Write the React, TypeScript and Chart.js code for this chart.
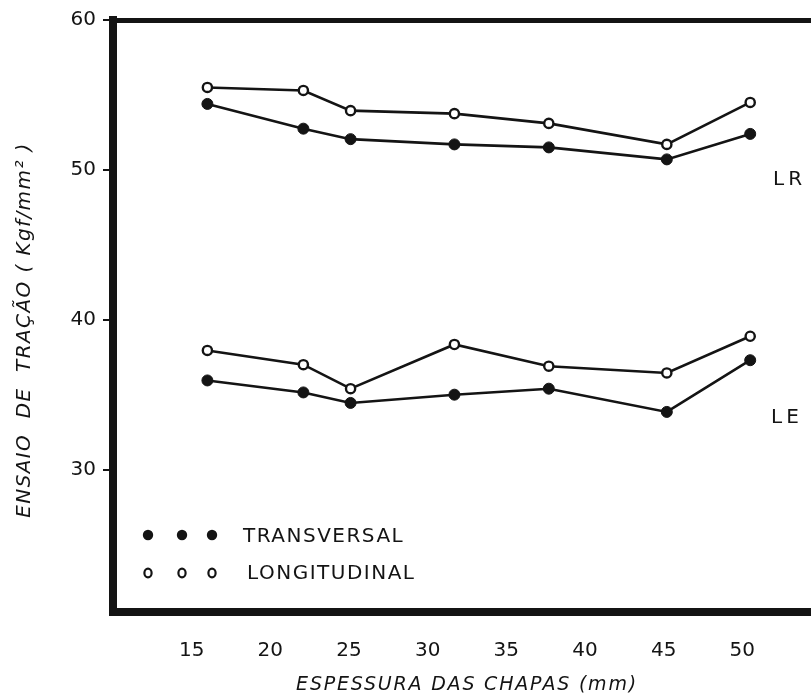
import { useEffect, useRef } from 'react';
import { Chart, registerables } from 'chart.js';

Chart.register(...registerables);

// Espessura das chapas (mm)
const thickness = [16, 22.1, 25.1, 31.7, 37.7, 45.2, 50.5];
// LR (limite de resistência)
const lrTransversal = [54.4, 52.75, 52.05, 51.7, 51.5, 50.7, 52.4];
const lrLongitudinal = [55.5, 55.3, 53.95, 53.75, 53.1, 51.7, 54.5];
// LE (limite de escoamento)
const leTransversal = [35.95, 35.15, 34.45, 35.0, 35.4, 33.85, 37.3];
const leLongitudinal = [37.95, 37.0, 35.4, 38.35, 36.9, 36.45, 38.9];

const xTicks = [15, 20, 25, 30, 35, 40, 45, 50];
const yTicks = [30, 40, 50, 60];

const xTitle = 'ESPESSURA DAS CHAPAS (mm)';
const yTitle = 'ENSAIO  DE  TRAÇÃO ( Kgf/mm² )';
const legendFilled = 'TRANSVERSAL';
const legendOpen = 'LONGITUDINAL';
const labelLR = 'LR';
const labelLE = 'LE';

const INK = '#141414';
const FONT = '"DejaVu Sans", sans-serif';

const toPoints = (ys: number[]) => thickness.map((x, i) => ({ x, y: ys[i] }));

const filledStyle = {
  borderColor: INK,
  borderWidth: 2.6,
  pointRadius: 5.5,
  pointBackgroundColor: INK,
  pointBorderColor: INK,
  pointBorderWidth: 1,
  tension: 0,
  fill: false,
};
const openStyle = {
  borderColor: INK,
  borderWidth: 2.6,
  pointRadius: 4.6,
  pointBackgroundColor: '#ffffff',
  pointBorderColor: INK,
  pointBorderWidth: 2.4,
  tension: 0,
  fill: false,
};

const textPlugin = {
  id: 'figureText',
  afterDraw(chart: any) {
    const ctx = chart.ctx as CanvasRenderingContext2D;
    ctx.save();
    ctx.fillStyle = INK;
    ctx.strokeStyle = INK;

    // legend markers
    const dotsX = [148, 182, 212];
    dotsX.forEach((x) => {
      ctx.beginPath();
      ctx.arc(x, 535, 5.2, 0, Math.PI * 2);
      ctx.fill();
      ctx.beginPath();
      ctx.lineWidth = 2.2;
      ctx.ellipse(x, 573, 3.6, 4.4, 0, 0, Math.PI * 2);
      ctx.stroke();
    });

    ctx.textBaseline = 'middle';
    ctx.textAlign = 'left';
    ctx.font = `20px ${FONT}`;
    (ctx as any).letterSpacing = '1.5px';
    ctx.fillText(legendFilled, 243, 537);
    ctx.fillText(legendOpen, 247, 574);

    (ctx as any).letterSpacing = '4px';
    ctx.fillText(labelLR, 773, 180);
    ctx.fillText(labelLE, 771, 418);

    // axis titles
    ctx.textAlign = 'center';
    ctx.font = `italic 19px ${FONT}`;
    (ctx as any).letterSpacing = '1.8px';
    ctx.fillText(xTitle, 467, 685);

    ctx.translate(25, 330);
    ctx.rotate(-Math.PI / 2);
    ctx.font = `italic 20px ${FONT}`;
    (ctx as any).letterSpacing = '1.4px';
    ctx.fillText(yTitle, 0, 0);
    ctx.restore();
  },
};

export default function App() {
  const ref = useRef<HTMLCanvasElement | null>(null);

  useEffect(() => {
    if (!ref.current) return;
    const chart = new Chart(ref.current, {
      type: 'line',
      data: {
        datasets: [
          { label: 'LR transversal', data: toPoints(lrTransversal), ...filledStyle },
          { label: 'LR longitudinal', data: toPoints(lrLongitudinal), ...openStyle },
          { label: 'LE transversal', data: toPoints(leTransversal), ...filledStyle },
          { label: 'LE longitudinal', data: toPoints(leLongitudinal), ...openStyle },
        ] as any,
      },
      options: {
        animation: false,
        responsive: false,
        maintainAspectRatio: false,
        devicePixelRatio: 1,
        layout: { padding: { top: 20, right: 9, left: 0, bottom: 0 } },
        plugins: {
          legend: { display: false },
          tooltip: { enabled: false },
          title: { display: false },
        },
        scales: {
          x: {
            type: 'linear',
            position: 'bottom',
            min: 10,
            max: 55,
            afterBuildTicks: (s: any) => {
              s.ticks = xTicks.map((v) => ({ value: v }));
            },
            afterFit: (s: any) => {
              s.height = 84;
            },
            grid: { display: false },
            border: { display: true, color: INK, width: 8 },
            ticks: {
              color: INK,
              font: { family: FONT, size: 20 },
              padding: 19,
              maxRotation: 0,
              autoSkip: false,
            },
          },
          xTop: {
            type: 'linear',
            axis: 'x',
            position: 'top',
            min: 10,
            max: 55,
            afterFit: (s: any) => {
              s.height = 0;
            },
            grid: { display: false },
            ticks: { display: false },
            border: { display: true, color: INK, width: 5 },
          },
          y: {
            type: 'linear',
            position: 'left',
            min: 20.5,
            max: 60,
            afterBuildTicks: (s: any) => {
              s.ticks = yTicks.map((v) => ({ value: v }));
            },
            afterFit: (s: any) => {
              s.width = 113;
            },
            grid: {
              display: true,
              drawOnChartArea: false,
              drawTicks: true,
              tickLength: 10,
              color: INK,
              lineWidth: 2,
            },
            border: { display: true, color: INK, width: 8 },
            ticks: {
              color: INK,
              font: { family: FONT, size: 20 },
              padding: 7,
            },
          },
        } as any,
      },
      plugins: [textPlugin],
    });
    return () => chart.destroy();
  }, []);

  return (
    <div
      style={{
        position: 'fixed',
        left: 0,
        top: 0,
        width: 811,
        height: 696,
        overflow: 'hidden',
        background: '#ffffff',
      }}
    >
      <canvas ref={ref} width={830} height={696} style={{ display: 'block' }} />
    </div>
  );
}
